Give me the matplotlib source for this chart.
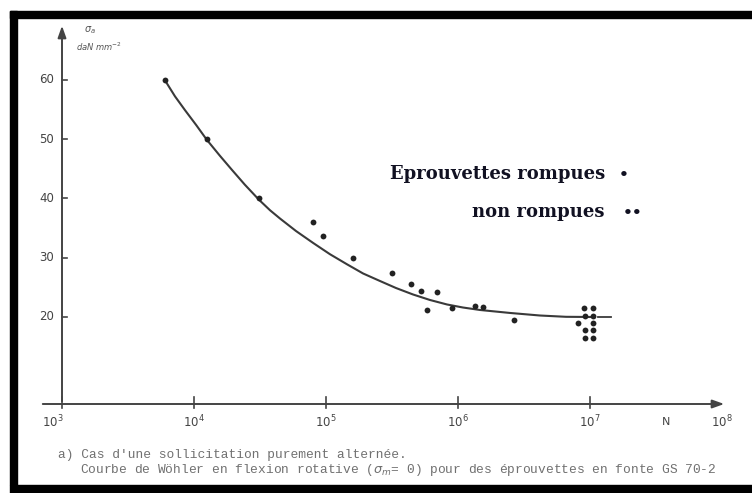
import matplotlib
matplotlib.use("Agg")
import matplotlib.pyplot as plt
from matplotlib.patches import Rectangle

# ---- data ----
curve_N = [6000, 7180, 8550, 10400, 12500, 15700, 19400, 24300, 31000, 37700,
           44900, 59300, 79800, 107000, 144000, 191000, 256000, 339000, 456000,
           613000, 826000, 1.09e6, 1.47e6, 2.48e6, 4.18e6, 6.58e6, 1.03e7]
curve_S = [60.0, 57.22, 54.89, 52.37, 49.9, 47.21, 44.81, 42.31, 39.8, 38.0,
           36.6, 34.5, 32.5, 30.6, 28.9, 27.34, 26.08, 24.89, 23.80,
           22.87, 22.11, 21.60, 21.18, 20.68, 20.25, 20.03, 20.0]
tail_N = [1.15e7, 1.44e7]
tail_S = [20.0, 20.0]

broken_N = [6000, 12500, 31000, 79800, 94800, 160000, 316000, 441000, 525000,
            693000, 582000, 901000, 1.35e6, 1.55e6, 2.66e6]
broken_S = [60.0, 50.0, 40.0, 36.0, 33.7, 30.0, 27.4, 25.6, 24.4,
            24.2, 21.2, 21.5, 21.9, 21.7, 19.5]

runout_N = [9.0e6, 1.05e7, 9.2e6, 1.05e7, 8.1e6, 1.05e7, 9.2e6, 1.05e7, 9.2e6, 1.05e7]
runout_S = [21.5, 21.5, 20.2, 20.2, 19.0, 19.0, 17.8, 17.8, 16.5, 16.5]

y_ticks = [20, 30, 40, 50, 60]
x_ticks = [1e3, 1e4, 1e5, 1e6, 1e7, 1e8]
x_labels = [r"$10^{3}$", r"$10^{4}$", r"$10^{5}$", r"$10^{6}$", r"$10^{7}$", r"$10^{8}$"]

W, H = 752, 493
fig = plt.figure(figsize=(W / 100, H / 100), dpi=100)
fig.patch.set_facecolor("white")

def fx(px):
    return px / W

def fy(py):
    return 1 - py / H

# axes placed so that 10^3 sits at x=62, 10^8 at x=722
left_px, right_px, bot_px, top_px = 40, 727, 404, 23
ax = fig.add_axes([fx(left_px), fy(bot_px), fx(right_px) - fx(left_px), fy(top_px) - fy(bot_px)])
ax.set_xscale("log")
ax.set_xlim(10 ** 2.8333, 10 ** 8.038)
ax.set_ylim(5.32, 69.6)
ax.patch.set_alpha(0)
for s in ax.spines.values():
    s.set_visible(False)

col = "#3a3a3a"
ax.plot(curve_N, curve_S, color=col, lw=1.5, solid_capstyle="round", solid_joinstyle="round")
ax.plot(tail_N, tail_S, color=col, lw=1.3)
ax.plot(broken_N, broken_S, "o", color="#222222", ms=4.2, mec="none")
ax.plot(runout_N, runout_S, "o", color="#222222", ms=4.2, mec="none")

# axes lines with arrows
ax.annotate("", xy=(1.0, 0.0), xytext=(0.0, 0.0), xycoords="axes fraction",
            arrowprops=dict(arrowstyle="-|>,head_length=0.7,head_width=0.25",
                            color="#444444", lw=1.4))
ax.annotate("", xy=(1e3, 69.6), xytext=(1e3, 5.32), xycoords="data",
            arrowprops=dict(arrowstyle="-|>,head_length=0.7,head_width=0.25",
                            color="#444444", lw=1.4))

# ticks
ax.set_xticks([])
ax.set_yticks([])
ax.minorticks_off()
for t, lab in zip(y_ticks, y_ticks):
    ax.plot([1e3, 10 ** 3.04], [t, t], color="#444444", lw=1.2)
    ax.text(10 ** 2.94, t, str(lab), ha="right", va="center", fontsize=8.5,
            color="#444444", family="DejaVu Sans")
for t, lab in zip(x_ticks, x_labels):
    if t < 1e8:
        ax.plot([t, t], [5.32 - 0.6, 5.32 + 1.2], color="#444444", lw=1.2, clip_on=False)
    ax.text(t * (0.85 if t == 1e3 else 1.0), 2.2, lab, ha="center", va="center",
            fontsize=8.5, color="#444444", clip_on=False)
ax.text(10 ** 7.575, 2.2, "N", ha="center", va="center", fontsize=8,
        color="#444444", clip_on=False)

# y axis label
fig.text(fx(84), fy(30), r"$\sigma_a$", fontsize=7, color="#555555", ha="left", va="center")
fig.text(fx(76), fy(47), r"daN mm$^{-2}$", fontsize=6, color="#555555", ha="left",
         va="center", style="italic")

# legend text
fig.text(fx(390), fy(174), "Eprouvettes rompues", fontsize=13, fontweight="bold",
         family="DejaVu Serif", color="#111122", ha="left", va="center")
fig.text(fx(619), fy(175), "•", fontsize=11, fontweight="bold",
         family="DejaVu Serif", color="#111122", ha="left", va="center")
fig.text(fx(472), fy(212), "non rompues", fontsize=13, fontweight="bold",
         family="DejaVu Serif", color="#111122", ha="left", va="center")
fig.text(fx(623), fy(213), "••", fontsize=11, fontweight="bold",
         family="DejaVu Serif", color="#111122", ha="left", va="center")

# caption
fig.text(fx(58), fy(455), "a) Cas d'une sollicitation purement alternée.",
         fontsize=9.3, family="Liberation Mono", color="#707070", ha="left", va="center")
fig.text(fx(80), fy(470),
         r"Courbe de Wöhler en flexion rotative ($\sigma_m$= 0) pour des éprouvettes en fonte GS 70-2",
         fontsize=9.3, family="Liberation Mono", color="#707070", ha="left", va="center")

# black frame
fig.patches.append(Rectangle((fx(10), fy(485)), fx(7), fy(11) - fy(485),
                             transform=fig.transFigure, color="black", zorder=10))
fig.patches.append(Rectangle((fx(10), fy(18)), 1 - fx(10), fy(11) - fy(18),
                             transform=fig.transFigure, color="black", zorder=10))
fig.patches.append(Rectangle((fx(10), 0), 1 - fx(10), fy(485),
                             transform=fig.transFigure, color="black", zorder=10))

fig.savefig("out.png", dpi=100)
